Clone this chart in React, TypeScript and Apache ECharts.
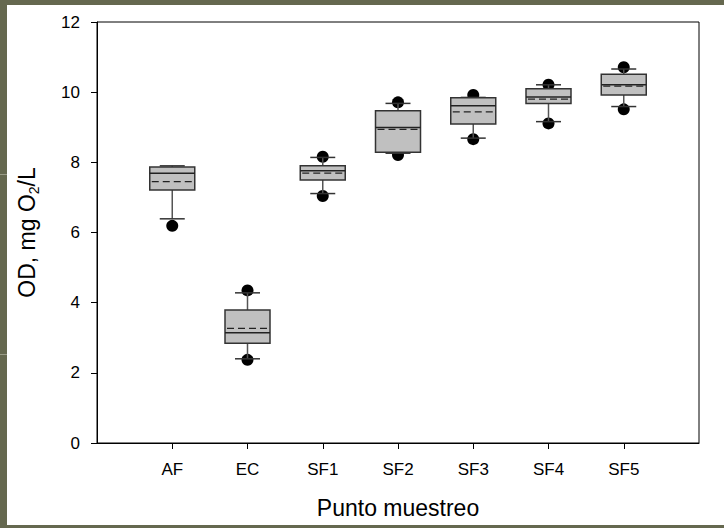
import React, { useEffect, useRef } from "react";
import * as echarts from "echarts";

const categories = ["AF", "EC", "SF1", "SF2", "SF3", "SF4", "SF5"];
const whiskerLow = [6.39, 2.4, 7.11, 8.26, 8.69, 9.16, 9.59];
const q1 = [7.21, 2.84, 7.5, 8.29, 9.09, 9.68, 9.92];
const median = [7.69, 3.14, 7.76, 8.99, 9.61, 9.86, 10.21];
const q3 = [7.87, 3.79, 7.9, 9.47, 9.84, 10.1, 10.51];
const whiskerHigh = [7.9, 4.28, 8.14, 9.68, 9.85, 10.21, 10.66];
const meanValues = [7.45, 3.27, 7.69, 8.94, 9.44, 9.8, 10.17];
const outlierLow = [6.19, 2.37, 7.04, 8.21, 8.66, 9.11, 9.51];
const outlierHigh: (number | null)[] = [null, 4.35, 8.16, 9.71, 9.92, 10.21, 10.71];
const yTicks = { min: 0, max: 12, interval: 2 };

const FONT = "'Liberation Sans', Arial, sans-serif";

export default function App() {
  const ref = useRef<HTMLDivElement>(null);
  useEffect(() => {
    if (!ref.current) return;
    const chart = echarts.init(ref.current, undefined, { renderer: "svg" });
    const axisCats = ["", ...categories, ""];
    const boxData = categories.map((c, i) => [
      c,
      whiskerLow[i],
      q1[i],
      median[i],
      q3[i],
      whiskerHigh[i],
      meanValues[i],
    ]);
    const dots: any[] = [];
    categories.forEach((c, i) => {
      dots.push([c, outlierLow[i]]);
      if (outlierHigh[i] != null) dots.push([c, outlierHigh[i]]);
    });
    const option: any = {
      animation: false,
      backgroundColor: "transparent",
      grid: {
        left: 90,
        top: 17,
        right: 25,
        bottom: 82,
        show: true,
        borderColor: "#000",
        borderWidth: 1,
        backgroundColor: "transparent",
      },
      xAxis: {
        type: "category",
        data: axisCats,
        boundaryGap: false,
        name: "Punto muestreo",
        nameLocation: "middle",
        nameGap: 53,
        nameTextStyle: { fontSize: 23, color: "#000", fontFamily: FONT },
        axisLine: { lineStyle: { color: "#000", width: 1 } },
        axisTick: {
          show: true,
          length: 6,
          lineStyle: { color: "#000" },
          interval: (idx: number, val: string) => val !== "",
        },
        axisLabel: {
          interval: 0,
          margin: 18,
          fontSize: 17,
          color: "#000",
          fontFamily: FONT,
        },
        splitLine: { show: false },
      },
      yAxis: {
        type: "value",
        min: yTicks.min,
        max: yTicks.max,
        interval: yTicks.interval,
        name: "{a|OD, mg O}{s|2}{a|/L}",
        nameLocation: "middle",
        nameGap: 56,
        nameRotate: 90,
        nameTextStyle: {
          color: "#000",
          fontFamily: FONT,
          fontSize: 23,
          rich: {
            a: { fontSize: 23, lineHeight: 28, color: "#000", fontFamily: FONT },
            s: {
              fontSize: 14,
              lineHeight: 28,
              color: "#000",
              fontFamily: FONT,
              verticalAlign: "bottom",
              padding: [10, 0, 0, 0],
            },
          },
        },
        axisLine: { show: true, lineStyle: { color: "#000", width: 1 } },
        axisTick: { show: true, length: 6, lineStyle: { color: "#000" } },
        axisLabel: { margin: 17, fontSize: 17, color: "#000", fontFamily: FONT },
        splitLine: { show: false },
      },
      series: [
        {
          type: "scatter",
          data: dots,
          symbol: "circle",
          symbolSize: 12,
          itemStyle: { color: "#000", opacity: 1 },
          z: 1,
        },
        {
          type: "custom",
          z: 3,
          data: boxData,
          encode: { x: 0, y: [1, 2, 3, 4, 5, 6] },
          renderItem: (params: any, api: any) => {
            const xv = api.value(0);
            const pLow = api.coord([xv, api.value(1)]);
            const pQ1 = api.coord([xv, api.value(2)]);
            const pMed = api.coord([xv, api.value(3)]);
            const pQ3 = api.coord([xv, api.value(4)]);
            const pHigh = api.coord([xv, api.value(5)]);
            const pMean = api.coord([xv, api.value(6)]);
            const cx = pQ1[0];
            const bw = 45;
            const cw = 25;
            const half = bw / 2;
            return {
              type: "group",
              children: [
                {
                  type: "line",
                  shape: { x1: cx, y1: pQ3[1], x2: cx, y2: pHigh[1] },
                  style: { stroke: "#555", lineWidth: 1.5 },
                },
                {
                  type: "line",
                  shape: { x1: cx, y1: pQ1[1], x2: cx, y2: pLow[1] },
                  style: { stroke: "#555", lineWidth: 1.5 },
                },
                {
                  type: "line",
                  shape: { x1: cx - cw / 2, y1: pHigh[1], x2: cx + cw / 2, y2: pHigh[1] },
                  style: { stroke: "#333", lineWidth: 1.5 },
                },
                {
                  type: "line",
                  shape: { x1: cx - cw / 2, y1: pLow[1], x2: cx + cw / 2, y2: pLow[1] },
                  style: { stroke: "#333", lineWidth: 1.5 },
                },
                {
                  type: "rect",
                  shape: { x: cx - half, y: pQ3[1], width: bw, height: pQ1[1] - pQ3[1] },
                  style: { fill: "#c0c0c0", stroke: "#333", lineWidth: 1.5 },
                },
                {
                  type: "line",
                  shape: { x1: cx - half, y1: pMed[1], x2: cx + half, y2: pMed[1] },
                  style: { stroke: "#222", lineWidth: 1.5 },
                },
                {
                  type: "line",
                  shape: { x1: cx - half + 2, y1: pMean[1], x2: cx + half - 2, y2: pMean[1] },
                  style: { stroke: "#222", lineWidth: 1.3, lineDash: [7, 4] },
                },
              ],
            };
          },
        },
      ],
    };
    chart.setOption(option);
    return () => chart.dispose();
  }, []);

  return (
    <div
      style={{
        position: "fixed",
        left: 0,
        top: 0,
        width: 724,
        height: 528,
        background: "#65684f",
        overflow: "hidden",
      }}
    >
      <div style={{ position: "absolute", left: 0, top: 174, width: 7, height: 1, background: "#9a9c88" }} />
      <div style={{ position: "absolute", left: 0, top: 354, width: 7, height: 1, background: "#9a9c88" }} />
      <div
        ref={ref}
        style={{
          position: "absolute",
          left: 7,
          top: 5,
          width: 717,
          height: 520,
          background: "#ffffff",
        }}
      />
    </div>
  );
}
